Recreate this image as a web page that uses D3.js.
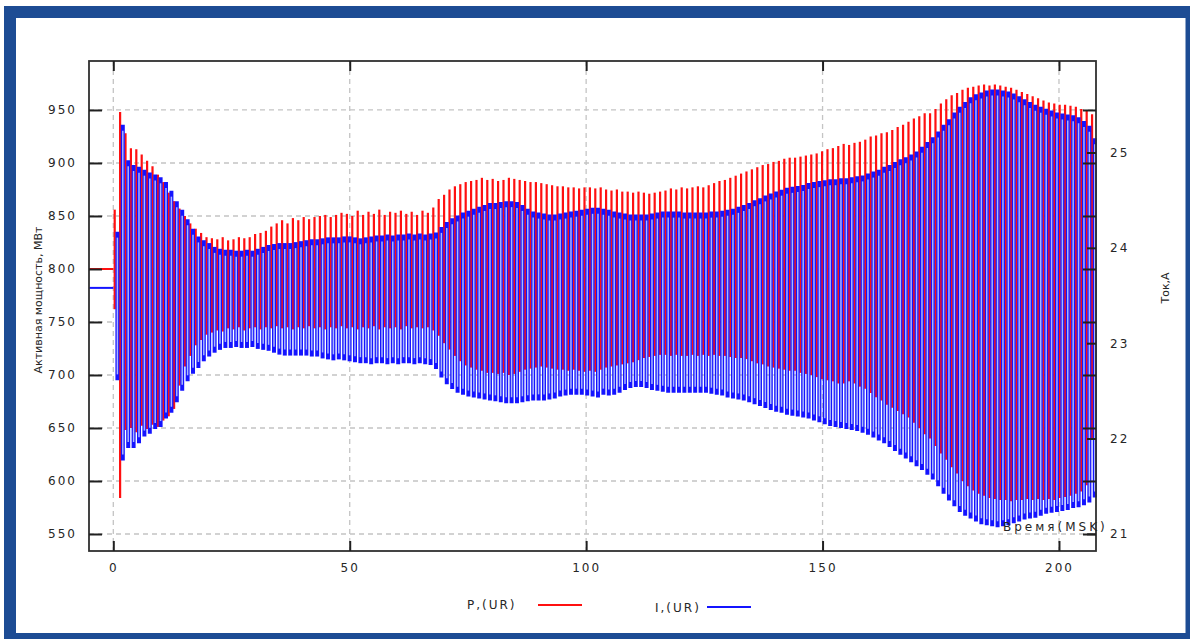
<!DOCTYPE html>
<html>
<head>
<meta charset="utf-8">
<script src="https://cdn.jsdelivr.net/npm/d3@7"></script>
<style>
  body { margin: 0; background: #fff; }
  svg text { font-family: "DejaVu Sans", Verdana, sans-serif; fill: #262626; }
</style>
</head>
<body>
<svg id="chart" width="1190" height="639"></svg>
<script>
// ---- recorded swing: one max/min pair per oscillation cycle ----
const cycleStart = 0.296;   // time of the first cycle, s
const cycleStep = 1.142;    // cycle length, s
const currentPhase = 0.5;   // current peaks lag power peaks by half a cycle

// steady state before the disturbance
const preTime = [-5.14, 0.0];
const pSteady = [800, 800];
const iSteady = [23.58, 23.58];

// active power P, MW (per-cycle maximum / minimum)
const pMax = [
  856,948,928,914,913,908,902,897,889,882,
  872,864,857,850,843,838,834,830,829,828,
  830,827,828,830,829,830,833,834,836,840,
  843,846,843,848,846,849,847,849,850,851,
  849,851,853,852,850,855,851,854,852,856,
  851,854,853,855,852,854,851,855,853,858,
  866,870,875,878,880,882,883,884,886,884,
  885,883,884,886,885,884,883,882,882,881,
  880,879,878,878,877,877,876,877,877,876,
  877,875,874,875,873,873,872,873,872,871,
  872,873,874,876,875,877,876,877,878,877,
  879,881,883,884,886,888,890,892,894,896,
  898,899,901,902,904,905,905,906,907,908,
  909,911,913,914,916,918,917,919,920,922,
  925,926,928,929,931,934,936,939,942,944,
  947,947,951,956,960,964,966,969,971,972,
  973,974,973,974,973,972,971,969,967,965,
  963,961,959,957,956,955,955,954,953,951,
  949,946
];
const pMin = [
  762,584,648,650,646,652,649,653,651,657,
  661,668,690,708,718,728,733,738,740,742,
  741,744,743,745,742,744,745,743,745,744,
  746,744,745,743,745,744,746,744,745,743,
  745,744,746,744,745,743,745,744,746,743,
  745,744,745,743,746,744,745,744,745,742,
  737,730,724,718,713,709,707,705,704,702,
  702,701,702,700,701,703,705,706,707,708,
  707,706,705,705,704,705,704,703,704,703,
  705,707,708,709,710,711,712,714,716,717,
  718,719,719,718,719,718,718,719,718,719,
  718,719,718,718,717,716,716,715,713,711,
  710,708,707,706,705,704,704,702,701,700,
  698,696,695,694,692,692,694,692,689,687,
  683,679,676,672,669,666,663,660,655,650,
  644,640,633,626,620,613,607,600,595,591,
  588,586,584,583,582,582,581,582,582,583,
  582,583,582,583,582,584,585,586,588,590,
  596,640
];

// current I, A (per-cycle maximum / minimum)
const iMax = [
  24.17,25.29,24.92,24.87,24.85,24.82,24.79,24.77,24.74,24.69,
  24.60,24.49,24.40,24.30,24.20,24.12,24.08,24.05,24.01,23.99,
  23.98,23.98,23.97,23.97,23.98,23.97,23.99,24.01,24.03,24.04,
  24.05,24.05,24.05,24.06,24.07,24.08,24.09,24.09,24.10,24.11,
  24.11,24.11,24.12,24.12,24.11,24.10,24.11,24.12,24.13,24.13,
  24.14,24.13,24.14,24.14,24.15,24.14,24.15,24.14,24.15,24.16,
  24.22,24.27,24.31,24.34,24.37,24.39,24.41,24.43,24.45,24.47,
  24.47,24.48,24.49,24.49,24.48,24.45,24.41,24.38,24.37,24.36,
  24.35,24.35,24.36,24.37,24.38,24.39,24.40,24.41,24.42,24.42,
  24.41,24.40,24.38,24.37,24.36,24.35,24.35,24.35,24.35,24.36,
  24.37,24.38,24.38,24.38,24.38,24.37,24.37,24.37,24.37,24.37,
  24.38,24.38,24.39,24.40,24.41,24.43,24.45,24.47,24.50,24.52,
  24.55,24.57,24.59,24.61,24.63,24.64,24.65,24.66,24.68,24.69,
  24.70,24.71,24.72,24.72,24.73,24.73,24.74,24.75,24.76,24.78,
  24.80,24.82,24.85,24.87,24.90,24.93,24.95,24.98,25.01,25.06,
  25.11,25.16,25.22,25.29,25.35,25.42,25.48,25.53,25.58,25.61,
  25.63,25.65,25.66,25.66,25.65,25.64,25.62,25.59,25.56,25.53,
  25.50,25.48,25.46,25.44,25.42,25.41,25.40,25.39,25.37,25.33,
  25.28,25.15
];
const iMin = [
  22.61,21.77,21.90,21.90,21.95,22.02,22.05,22.10,22.12,22.21,
  22.27,22.38,22.50,22.60,22.68,22.74,22.81,22.86,22.90,22.93,
  22.95,22.95,22.96,22.95,22.95,22.96,22.94,22.93,22.92,22.90,
  22.88,22.87,22.87,22.87,22.87,22.87,22.86,22.86,22.84,22.83,
  22.82,22.83,22.82,22.81,22.80,22.79,22.79,22.78,22.79,22.79,
  22.78,22.79,22.78,22.79,22.79,22.78,22.79,22.78,22.77,22.73,
  22.64,22.57,22.52,22.48,22.46,22.44,22.43,22.42,22.41,22.40,
  22.39,22.38,22.37,22.37,22.37,22.38,22.39,22.40,22.40,22.40,
  22.41,22.42,22.44,22.45,22.46,22.46,22.46,22.45,22.44,22.43,
  22.46,22.45,22.46,22.48,22.51,22.53,22.54,22.54,22.53,22.51,
  22.50,22.49,22.48,22.48,22.48,22.48,22.48,22.48,22.48,22.48,
  22.47,22.46,22.45,22.43,22.42,22.41,22.40,22.38,22.36,22.34,
  22.32,22.30,22.28,22.27,22.25,22.24,22.23,22.22,22.21,22.19,
  22.17,22.15,22.13,22.12,22.11,22.10,22.09,22.08,22.06,22.04,
  22.01,21.98,21.95,21.91,21.87,21.83,21.79,21.75,21.71,21.67,
  21.62,21.57,21.50,21.42,21.35,21.29,21.23,21.19,21.16,21.13,
  21.10,21.09,21.08,21.07,21.08,21.09,21.11,21.13,21.15,21.16,
  21.17,21.19,21.21,21.22,21.23,21.24,21.25,21.27,21.28,21.30,
  21.33,21.38
];

// axis ticks and labels
const timeTicks = [0, 50, 100, 150, 200];
const powerTicks = [550, 600, 650, 700, 750, 800, 850, 900, 950];
const currentTicks = [21, 22, 23, 24, 25];
const powerTitle = "Активная мощность, МВт";
const currentTitle = "Ток,А";
const timeTitle = "Время(MSK)";
const seriesNames = ["P,(UR)", "I,(UR)"];

// ---- layout ----
const svg = d3.select("#chart");
const plot = { left: 89, right: 1096, top: 61, bottom: 551 };
const RED = "#ff1010", BLUE = "#1414ff", BLUE_LIGHT = "#aab6ff";

// framed panel
svg.append("rect").attr("x", 4).attr("y", 6).attr("width", 1200).attr("height", 650).attr("fill", "#1d4c94");
svg.append("rect").attr("x", 16).attr("y", 18).attr("width", 1169.5).attr("height", 615).attr("fill", "#fff");

const x = d3.scaleLinear().domain([-5.14, 207.83]).range([plot.left, plot.right]);
const yP = d3.scaleLinear().domain([533.96, 996.2]).range([plot.bottom, plot.top]);
const yI = d3.scaleLinear().domain([20.82, 25.96]).range([plot.bottom, plot.top]);

// dashed grid
const grid = svg.append("g").attr("stroke", "#c4c4c4").attr("stroke-width", 1.3).attr("stroke-dasharray", "5,4");
grid.selectAll("line.h").data(powerTicks).join("line").attr("class", "h")
  .attr("x1", plot.left).attr("x2", plot.right)
  .attr("y1", d => yP(d)).attr("y2", d => yP(d));
grid.selectAll("line.v").data(timeTicks).join("line").attr("class", "v")
  .attr("y1", plot.top).attr("y2", plot.bottom)
  .attr("x1", d => x(d)).attr("x2", d => x(d));

// ---- series ----
const cycles = d3.range(pMax.length);
const tP = k => cycleStart + k * cycleStep;
const tI = k => cycleStart + (k + currentPhase) * cycleStep;

const data = svg.append("g");
const steadyLine = (yScale, vals) => d3.line().x(d => x(d)).y((d, i) => yScale(vals[i]))(preTime);

data.append("path").attr("d", steadyLine(yP, pSteady)).attr("fill", "none").attr("stroke", RED).attr("stroke-width", 2);
data.selectAll("line.p").data(cycles).join("line").attr("class", "p")
  .attr("x1", k => x(tP(k))).attr("x2", k => x(tP(k)))
  .attr("y1", k => yP(pMin[k])).attr("y2", k => yP(pMax[k]))
  .attr("stroke", RED).attr("stroke-width", 2.2);

data.append("path").attr("d", steadyLine(yI, iSteady)).attr("fill", "none").attr("stroke", BLUE).attr("stroke-width", 2);
data.selectAll("line.i").data(cycles).join("line").attr("class", "i")
  .attr("x1", k => x(tI(k))).attr("x2", k => x(tI(k)))
  .attr("y1", k => yI(iMin[k])).attr("y2", k => yI(iMax[k]))
  .attr("stroke", BLUE).attr("stroke-width", 4);
// light core between the rising and falling edges
data.selectAll("line.ic").data(cycles).join("line").attr("class", "ic")
  .attr("x1", k => x(tI(k))).attr("x2", k => x(tI(k)))
  .attr("y1", k => yI(iMin[k]) - 6).attr("y2", k => yI(iMax[k]) + 6)
  .attr("stroke", BLUE_LIGHT).attr("stroke-width", 1.5);

// ---- frame and axes ----
svg.append("rect").attr("x", plot.left).attr("y", plot.top)
  .attr("width", plot.right - plot.left).attr("height", plot.bottom - plot.top)
  .attr("fill", "none").attr("stroke", "#303030").attr("stroke-width", 1.8);

function styleAxis(g) {
  g.select(".domain").remove();
  g.selectAll(".tick line").attr("stroke", "#202020").attr("stroke-width", 2);
  g.selectAll(".tick text").attr("fill", "#262626").style("font-size", "12px").style("letter-spacing", "2px");
}

svg.append("g").attr("transform", `translate(${plot.left},0)`)
  .call(d3.axisLeft(yP).tickValues(powerTicks).tickSize(-13).tickPadding(12).tickFormat(d3.format("d")))
  .call(styleAxis);
svg.append("g").attr("transform", `translate(${plot.right},0)`)
  .call(d3.axisRight(yP).tickValues(powerTicks).tickSize(-13).tickFormat(""))
  .call(styleAxis);
svg.append("g").attr("transform", `translate(${plot.right},0)`)
  .call(d3.axisRight(yI).tickValues(currentTicks).tickSize(-9).tickPadding(14).tickFormat(d3.format("d")))
  .call(styleAxis);
svg.append("g").attr("transform", `translate(0,${plot.bottom})`)
  .call(d3.axisBottom(x).tickValues(timeTicks).tickSize(-10).tickPadding(12).tickFormat(d3.format("d")))
  .call(styleAxis);
svg.append("g").attr("transform", `translate(0,${plot.top})`)
  .call(d3.axisTop(x).tickValues(timeTicks).tickSize(-10).tickFormat(""))
  .call(styleAxis);

// titles
svg.append("text").attr("transform", "translate(42,300) rotate(-90)")
  .attr("text-anchor", "middle").style("font-size", "11px").text(powerTitle);
svg.append("text").attr("transform", "translate(1169,288) rotate(-90)")
  .attr("text-anchor", "middle").style("font-size", "11px").text(currentTitle);
svg.append("text").attr("x", 1003).attr("y", 531)
  .style("font-size", "12px").style("letter-spacing", "3px").attr("fill", "#404040").text(timeTitle);

// legend
const legend = [
  { name: seriesNames[0], color: RED, tx: 467, ty: 609, lx: 538, ly: 605 },
  { name: seriesNames[1], color: BLUE, tx: 655, ty: 611.5, lx: 707, ly: 607 }
];
const lg = svg.append("g").selectAll("g").data(legend).join("g");
lg.append("text").attr("x", d => d.tx).attr("y", d => d.ty)
  .style("font-size", "12px").style("letter-spacing", "2px").text(d => d.name);
lg.append("line").attr("x1", d => d.lx).attr("x2", d => d.lx + 44)
  .attr("y1", d => d.ly).attr("y2", d => d.ly)
  .attr("stroke", d => d.color).attr("stroke-width", 2);
</script>
</body>
</html>
